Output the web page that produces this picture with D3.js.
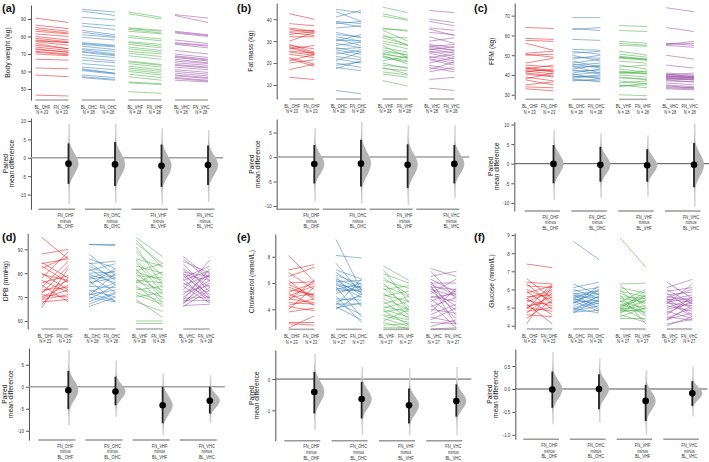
<!DOCTYPE html>
<html><head><meta charset="utf-8">
<script src="https://cdnjs.cloudflare.com/ajax/libs/d3/7.8.5/d3.min.js"></script>
<style>body{margin:0;background:#fff}svg{display:block}</style>
</head><body><svg id="chart" width="709" height="462"></svg>
<script>
const groups = ["OHF", "OHC", "VHF", "VHC"];
const colors = ["#E41A1C", "#377EB8", "#4DAF4A", "#984EA3"];

// (a) Body weight
const bwBL = [
 [90.5,86.5,85,84,83,81.5,80,79,78,77.5,77,76,75,74,73,72.5,71.5,71,70,67,62,58,46.5],
 [95.5,94.5,91,87.5,86,83.5,82.5,81,79.5,76.5,76,75.5,74.5,73,72.5,71.5,71,69.5,68,66.5,64.5,62.5,61.5,61,60.5,58,57,56.5],
 [94,93,85,84.5,84,83,80.5,79.5,77,76.5,75.5,74,73,71.5,70.5,69,66,65.5,64.5,63,62,61,60,58.5,57,54,53.5,48.5],
 [92.5,92,83,82.5,82,78,76.5,76,75.5,72,70,69,68.5,68,67,66,65,64,63.5,62.5,61,60,59,58,57.5,56.5,56,55]];
const bwFN = [
 [88,84.5,83,82,81.5,80,78,77,76.5,76.5,75,73,73,72,71,71,70,69.5,69,66.5,61.5,57,46],
 [94,92,89.5,86,84,81,80,79.5,78,75,74.5,74,72.5,71.5,70,69.5,69,68,66,65,63,61,59,59,58.5,56.5,55.5,55],
 [91,90,83.5,83,82,81.5,78.5,77.5,75.5,74.5,73.5,72,71,70,68.5,67,64,63.5,62.5,61,60,59,58,56.5,55,53,52.5,47.5],
 [90.5,88,81,80.5,80,76,75,74.5,73.5,70,68,67,66.5,66,65,64.5,63.5,62.5,62,61,59.5,58.5,57.5,56.5,56,55,54.5,54]];
const bwTicks = [50,60,70,80,90];
const bwDiffMean = [-1.6,-1.8,-2.2,-2.0];
const bwDiffLo = [-7.1,-7.7,-7.9,-7.4];
const bwDiffHi = [3.9,4.3,3.6,3.3];
const bwDiffMin = [-12.7,-12.3,-12.7,-12];
const bwDiffMax = [9.3,9.3,8,7.5];
const bwDiffTicks = [-10,-5,0,5,10];

// (b) Fat mass
const fmBL = [
 [42.5,38,36,35.5,34.5,34,33,32,28.5,28,27.5,27,26.5,25.5,25,24,22.5,22,21,20,17,13.5,30],
 [44.5,43.5,41,39,38.5,38,36,34,33,32,31,30.5,30,29,28,27,26.5,26,25,24,23,22,21,20,19,18,17.5,7.5],
 [45.5,42.5,41.5,36,35.5,35,33,32,31.5,30,29,28,27,26,25,24,23.5,23,22.5,21,20,19,18,17.5,16,15,12,24.5],
 [44,40,39,36,35.5,34,32,28.5,28,27.5,27,26.5,26,25.5,25,24.5,23,22.5,22,21.5,20,19,18,17,16,12.5,8.5,30]];
const fmFN = [
 [40,37,34.5,33.5,35,32.5,34.5,32,25,26.5,24.5,24,28,24.5,23.5,22.5,19.5,18.5,24,21.5,19.5,12.5,34],
 [43,39,44,38,36.5,39,37,31.5,32,30,28,30,33,27,29.5,25,27,24,22.5,26,21.5,20,25,18,20.5,16.5,21,6],
 [43,40,39.5,34.5,35,30,28,31.5,28.5,28,26.5,22.5,25,23.5,24,22.5,19.5,21,20.5,23,17.5,18,15,16.5,14.5,13.5,9.5,22],
 [43,38.5,37,35,32.5,33,29,27,25.5,28.5,26,24.5,27.5,23,25,22,21,24,20,19,22.5,17,16,20.5,18,13.5,7.5,31.5]];
const fmTicks = [10,20,30,40];
const fmDiffMean = [-1.43,-1.35,-1.6,-1.4];
const fmDiffLo = [-5.4,-6.0,-6.3,-5.4];
const fmDiffHi = [2.45,3.5,2.6,2.45];
const fmDiffMin = [-9.0,-9.5,-9.8,-8.4];
const fmDiffMax = [5.9,7.2,6.5,6.5];
const fmDiffTicks = [-10,-5,0,5];

// (c) FFM
const ffmBL = [
 [64,58.5,57.5,56,51,50.5,50,46,45,44,43.5,43,42.5,42,41.5,41,40.5,39,37.5,35,34,33,38],
 [69,63.5,58,53,52,51,50,49,48,47,46,45.5,45,44.5,44,43,42.5,42,41,40.5,40,39.5,39,38.5,38,37.5,37,63],
 [65,62.5,57,56,55,52,50.5,49.5,49,49,48.5,47,45,44,43,42,41.5,41,40,39,38.5,37,36,35,34,34.5,30,41],
 [74,64,56,55.5,55,50,45,41,40.5,40,39.5,39.5,39,39,38.5,38.5,38,38,37.5,37,36,35,34.5,34,33.5,33,55.5,40]];
const ffmFN = [
 [63.5,58,57,52.5,52,49,50.5,48.5,44,42,41.5,45,42,40.5,43,39.5,39,37,35,36.5,33.5,32,41],
 [69,62.5,57.5,52.5,50.5,52,47,48.5,50,44,48,43.5,46,41,44.5,45,40.5,42.5,43,38,41.5,38.5,40,39.5,36.5,37,38,64],
 [64.5,62,56,55,54.5,50,49,48,48,47.5,47.5,46,43,45,41.5,40.5,41,42,39,37.5,38,35.5,37,33.5,36,35,29.5,40.5],
 [72,62,55,57,54,48,43.5,40,39,39.5,39,38.5,38.5,39,38,37.5,37.5,38,36.5,36.5,35,34,33.5,33.5,33,32.5,56,41]];
const ffmTicks = [30,40,50,60,70];
const ffmDiffMean = [-0.05,-0.3,-0.4,-0.3];
const ffmDiffLo = [-5,-4.6,-4.6,-6];
const ffmDiffHi = [4.75,4.3,3.7,5.3];
const ffmDiffMin = [-9.3,-8.8,-8.4,-11];
const ffmDiffMax = [8.6,7.7,7.2,10.3];
const ffmDiffTicks = [-10,-5,0,5,10];

// (d) DPB
const dpbBL = [
 [95,88,84.5,84,83,82,80,79.5,78,77,76,75,74,73,72,71.5,71,70,69.5,69,68,67,65.5],
 [92,92,88,86,84.5,84,83,82,81,80,79.5,79,78,77.5,77,76,75,74.5,73,72,71.5,71,70.5,70,69,68,67,66],
 [95,94,92.5,91,89,86,85.5,84.5,83,82,81,80.5,80,79,78,77,76.5,76,75,74,73,72,71,70,69,68,60,59],
 [87,86,85,84,82,81.5,80.5,80,79.5,79,78,77.5,77,76,75,74.5,73,72,71,70,69.5,69,68.5,68,67.5,67,66.5,66]];
const dpbFN = [
 [86,90,78,86,76,87,73,77,89,72,79,68,85,74,77,83,70,75,73,71,69,78,82],
 [92,91.5,79,82,77,85,78,75,84,80.5,76,72,81,79,68,78,82,74,70,76,68.5,73,80,68,75,72,71.5,70],
 [87,82,84,75,79,83,74,72,80,69,84,77,71,78,68,76,73,80.5,66,70,74.5,68,67,72,61.5,64,60,59],
 [78,77,80,72,74,70,78.5,69,77,71,83,68,81,69.5,79,67.5,85.5,75,80,77,70,82,68.5,76,74,79.5,67,73]];
const dpbTicks = [60,70,80,90];
const dpbDiffMean = [-0.8,-1.1,-4.2,-3.2];
const dpbDiffLo = [-5.1,-4.2,-8.3,-6.1];
const dpbDiffHi = [3.6,2.3,0,0];
const dpbDiffMin = [-8.7,-6.8,-11,-8.3];
const dpbDiffMax = [8.3,6,3,2.6];
const dpbDiffTicks = [-10,-5,0,5];

// (e) Cholesterol
const chBL = [
 [8.1,7.0,6.8,6.5,6.2,6.0,5.9,5.7,5.5,5.3,5.2,5.0,4.9,4.8,4.7,4.5,4.3,4.2,4.0,3.8,3.0,2.9,2.6],
 [9.3,8.1,7.5,7.0,6.8,6.5,6.3,6.2,6.1,6.0,5.9,5.8,5.7,5.5,5.4,5.2,5.0,4.8,4.6,4.5,4.4,4.3,4.2,4.1,4.0,6.6,5.6],
 [7.3,7.0,6.7,6.4,6.2,6.0,5.8,5.6,5.5,5.3,5.1,5.0,4.8,4.6,4.4,4.2,4.1,4.0,3.9,3.8,3.6,3.5,3.3,3.1,3.0,2.8,2.6],
 [7.1,6.9,6.5,6.3,6.1,6.0,5.9,5.8,5.7,5.6,5.5,5.4,5.2,5.0,4.9,4.8,4.6,4.4,4.2,4.0,3.8,3.6,3.4,3.2,3.0,2.7,2.5]];
const chFN = [
 [6.1,7.4,5.5,7.2,4.7,6.1,5.0,4.9,5.1,6.0,4.3,5.8,5.2,4.5,6.2,4.4,4.8,3.9,5.7,4.1,3.0,2.8,3.5],
 [5.4,7.9,5.2,6.3,5.5,4.2,5.6,5.1,6.2,5.3,4.9,5.7,3.4,6.0,5.5,5.8,3.0,4.7,5.0,3.6,4.4,6.3,3.2,4.5,5.2,5.9,5.35],
 [6.2,4.5,6.0,5.1,5.6,3.9,5.0,4.2,5.8,3.5,4.6,5.4,4.0,3.3,5.0,3.8,4.6,3.4,2.8,4.1,3.2,3.0,2.7,4.0,2.5,2.9,2.6],
 [6.5,4.8,6.9,5.3,3.5,6.0,5.1,2.8,5.5,4.2,5.0,3.9,6.3,4.6,5.2,3.3,5.4,2.6,4.9,3.7,5.6,4.4,3.0,4.1,2.9,3.2,2.6]];
const chTicks = [4,6,8];
const chDiffMean = [-0.415,-0.64,-0.84,-0.7];
const chDiffLo = [-1.1,-1.26,-1.42,-1.2];
const chDiffHi = [0.23,-0.09,-0.3,-0.17];
const chDiffMin = [-1.63,-1.79,-1.79,-1.79];
const chDiffMax = [0.82,0.39,0.34,0.39];
const chDiffTicks = [-1,0];

// (f) Glucose
const glBL = [
 [7.4,6.6,6.4,6.3,6.2,6.0,5.9,5.8,5.6,5.5,5.5,5.4,5.3,5.2,5.1,5.0,5.0,4.9,4.8,4.7,4.6,4.4,4.1],
 [8.65,6.3,6.1,6.0,5.9,5.8,5.75,5.7,5.65,5.6,5.55,5.5,5.45,5.4,5.35,5.3,5.2,5.1,5.0,4.95,4.9,4.85,4.8,4.75,4.7,5.25],
 [8.85,6.3,6.25,6.1,6.0,5.9,5.8,5.7,5.6,5.5,5.4,5.3,5.2,5.1,5.05,5.0,4.95,4.9,4.85,4.8,4.75,4.7,4.6,4.5,4.4,4.9,5.35],
 [6.4,6.1,6.0,5.9,5.8,5.7,5.6,5.55,5.5,5.45,5.4,5.35,5.3,5.25,5.2,5.1,5.0,4.9,4.8,4.7,4.6,4.5,4.4,4.35,4.3,4.1,4.0]];
const glFN = [
 [7.2,5.5,6.3,5.2,6.1,5.4,4.9,6.2,5.7,4.6,6.0,5.1,5.9,4.1,5.3,5.6,4.8,6.3,5.0,5.8,4.5,5.4,6.2],
 [7.65,5.7,6.4,5.5,6.1,5.3,5.9,5.0,5.8,5.55,4.9,6.0,5.2,5.75,4.8,5.4,6.2,5.6,5.35,4.7,5.25,5.65,5.1,4.85,5.45,5.95],
 [7.25,6.35,5.0,5.8,4.6,5.6,5.2,4.1,5.5,5.3,4.9,6.0,4.7,5.7,5.55,4.3,5.9,5.1,4.8,5.45,4.95,5.4,4.2,5.0,4.4,5.65,4.55],
 [5.5,6.55,5.2,6.1,4.9,5.85,5.4,6.0,4.6,5.3,5.7,4.5,5.55,5.1,6.3,4.8,5.45,5.25,4.4,5.35,5.6,4.3,5.0,4.7,5.15,4.35,4.5]];
const glTicks = [4,5,6,7,8,9];
const glDiffMean = [-0.01,0.0,-0.26,-0.095];
const glDiffLo = [-0.41,-0.44,-0.70,-0.37];
const glDiffHi = [0.38,0.32,0.09,0.17];
const glDiffMin = [-0.77,-0.73,-1.0,-0.6];
const glDiffMax = [0.81,0.67,0.41,0.49];
const glDiffTicks = [-1,-0.5,0,0.5];

// layout (positions / styles only)
const panels = [
 {label:"(a)", lx:2, ly:12, title:"Body weight (kg)", bl:bwBL, fn:bwFN, ticks:bwTicks,
  diff:[bwDiffMean,bwDiffLo,bwDiffHi,bwDiffMin,bwDiffMax], dticks:bwDiffTicks,
  top:{ax:31, y0:100, y1:5, dom:[43.7,98], c0:52, c1:191.5, hw:16.5, tx:8},
  bot:{ax:31, y0:209.3, y1:118, dom:[-14,10.8], segL:30, segR:6.5, t1:6.5, t2:12.5, zc:"#a0a0a0", zw:1.6}},
 {label:"(b)", lx:237, ly:12, title:"Fat mass (kg)", bl:fmBL, fn:fmFN, ticks:fmTicks,
  diff:[fmDiffMean,fmDiffLo,fmDiffHi,fmDiffMin,fmDiffMax], dticks:fmDiffTicks,
  top:{ax:276.7, y0:99, y1:3, dom:[3.6,47.4], c0:301.8, c1:441.8, hw:12.5, tx:251},
  bot:{ax:276.7, y0:209.3, y1:119, dom:[-10.67,7.76], segL:38, segR:5, t1:252.5, t2:258, zc:"#a0a0a0", zw:1.6}},
 {label:"(c)", lx:474, ly:12, title:"FFM (kg)", bl:ffmBL, fn:ffmFN, ticks:ffmTicks,
  diff:[ffmDiffMean,ffmDiffLo,ffmDiffHi,ffmDiffMin,ffmDiffMax], dticks:ffmDiffTicks,
  top:{ax:514.7, y0:99.3, y1:3, dom:[27.7,76.4], c0:539.5, c1:680, hw:14, tx:492},
  bot:{ax:514.3, y0:211, y1:121.7, dom:[-12.07,10.71], segL:29, segR:6.5, t1:491, t2:497.5, zc:"#555", zw:1}},
 {label:"(d)", lx:2, ly:241, title:"DPB (mmHg)", bl:dpbBL, fn:dpbFN, ticks:dpbTicks,
  diff:[dpbDiffMean,dpbDiffLo,dpbDiffHi,dpbDiffMin,dpbDiffMax], dticks:dpbDiffTicks,
  top:{ax:27.7, y0:329, y1:233.3, dom:[56.65,96.7], c0:55, c1:196.5, hw:13.3, tx:6},
  bot:{ax:29, y0:440, y1:348.3, dom:[-12.1,8.73], segL:30, segR:7, t1:5.5, t2:11.5, zc:"#a0a0a0", zw:1.6}},
 {label:"(e)", lx:237, ly:241, title:"Cholesterol (mmol/L)", bl:chBL, fn:chFN, ticks:chTicks,
  diff:[chDiffMean,chDiffLo,chDiffHi,chDiffMin,chDiffMax], dticks:chDiffTicks,
  top:{ax:275.3, y0:329.3, y1:234, dom:[2.48,9.73], c0:301.5, c1:443.5, hw:12.8, tx:252},
  bot:{ax:275.3, y0:440.7, y1:350, dom:[-1.97,0.93], segL:30, segR:6, t1:252, t2:257.5, zc:"#555", zw:1}},
 {label:"(f)", lx:474, ly:241, title:"Glucose (mmol/L)", bl:glBL, fn:glFN, ticks:glTicks,
  diff:[glDiffMean,glDiffLo,glDiffHi,glDiffMin,glDiffMax], dticks:glDiffTicks,
  top:{ax:514.7, y0:329, y1:233, dom:[3.82,9.11], c0:539.5, c1:679.5, hw:12.8, tx:492},
  bot:{ax:515.3, y0:439.3, y1:349, dom:[-1.098,0.873], segL:29, segR:6.5, t1:490, t2:496, zc:"#555", zw:1}}
];

const REG = "'Liberation Sans',Arial,sans-serif";
const SQ = 0.74; // horizontal squeeze of small labels
const svg = d3.select("#chart");

function fmtFor(ticks) {
  const dec = ticks.some(t => !Number.isInteger(t)) ? 1 : 0;
  return d => d.toFixed(dec);
}
function styleAxis(sel) {
  sel.select(".domain").attr("stroke", "#555").attr("stroke-width", 1);
  sel.selectAll(".tick line").attr("stroke", "#555");
  sel.selectAll(".tick text").attr("fill", "#333").attr("font-size", 6).attr("font-family", REG)
    .attr("x", 0).attr("transform", `translate(-5,0) scale(${SQ},1)`);
}
function smallLabel(g, x, y, s) {
  g.append("text").attr("transform", `translate(${x},${y}) scale(${SQ},1)`).attr("text-anchor", "middle")
    .attr("font-family", REG).attr("font-size", 5.5).attr("fill", "#333").text(s);
}

panels.forEach(p => {
  const g = svg.append("g");
  g.append("text").attr("x", p.lx).attr("y", p.ly).text(p.label)
    .attr("font-family", REG).attr("font-weight", "bold").attr("font-size", 11).attr("fill", "#111");

  // ---- slopegraph
  const t = p.top;
  const y = d3.scaleLinear().domain(t.dom).range([t.y0, t.y1]);
  const x = d3.scalePoint().domain(groups).range([t.c0, t.c1]);
  const ax = g.append("g").attr("transform", `translate(${t.ax},0)`)
    .call(d3.axisLeft(y).tickValues(p.ticks).tickSize(3).tickSizeOuter(0).tickPadding(2).tickFormat(fmtFor(p.ticks)));
  styleAxis(ax);
  g.append("text").attr("transform", `translate(${t.tx},${(t.y0 + t.y1) / 2}) rotate(-90)`)
    .attr("text-anchor", "middle").attr("dominant-baseline", "middle")
    .attr("font-family", REG).attr("font-size", 6.8).attr("fill", "#222").text(p.title);

  groups.forEach((grp, i) => {
    const cx = x(grp), xl = cx - t.hw, xr = cx + t.hw;
    g.append("line").attr("x1", xl).attr("x2", xr).attr("y1", t.y0).attr("y2", t.y0)
      .attr("stroke", "#aaa").attr("stroke-width", 1.5);
    const pairs = p.bl[i].map((v, j) => [v, p.fn[i][j]]);
    g.append("g").selectAll("line").data(pairs).join("line")
      .attr("x1", xl).attr("x2", xr)
      .attr("y1", d => y(d[0])).attr("y2", d => y(d[1]))
      .attr("stroke", colors[i]).attr("stroke-width", 0.9).attr("stroke-opacity", 0.6);
    const n = p.bl[i].length;
    [["BL_" + grp, cx - 9.7], ["FN_" + grp, cx + 9.7]].forEach(([lab, lx]) => {
      smallLabel(g, lx, t.y0 + 8.5, lab);
      smallLabel(g, lx, t.y0 + 14.3, "N = " + n);
    });
  });

  // ---- paired mean difference
  const b = p.bot;
  const yb = d3.scaleLinear().domain(b.dom).range([b.y0, b.y1]);
  const axb = g.append("g").attr("transform", `translate(${b.ax},0)`)
    .call(d3.axisLeft(yb).tickValues(p.dticks).tickSize(3).tickSizeOuter(0).tickPadding(2).tickFormat(fmtFor(p.dticks)));
  styleAxis(axb);
  const ym = (b.y0 + b.y1) / 2;
  g.append("text").attr("transform", `translate(${b.t1},${ym}) rotate(-90)`)
    .attr("text-anchor", "middle").attr("dominant-baseline", "middle")
    .attr("font-family", REG).attr("font-size", 6.7).attr("fill", "#222").text("Paired");
  g.append("text").attr("transform", `translate(${b.t2},${ym}) rotate(-90)`)
    .attr("text-anchor", "middle").attr("dominant-baseline", "middle")
    .attr("font-family", REG).attr("font-size", 6.7).attr("fill", "#222").text("mean difference");

  const lastDx = x(groups[3]) + t.hw;
  g.append("line").attr("x1", b.ax).attr("x2", lastDx + 15).attr("y1", yb(0)).attr("y2", yb(0))
    .attr("stroke", b.zc).attr("stroke-width", b.zw);

  const [dMean, dLo, dHi, dMin, dMax] = p.diff;
  groups.forEach((grp, i) => {
    const dx = x(grp) + t.hw;
    g.append("line").attr("x1", dx - b.segL).attr("x2", dx + b.segR).attr("y1", b.y0).attr("y2", b.y0)
      .attr("stroke", "#999").attr("stroke-width", 1.5);
    g.append("rect").attr("x", dx).attr("width", 1.6)
      .attr("y", yb(dMax[i])).attr("height", yb(dMin[i]) - yb(dMax[i])).attr("fill", "#d6d6d6");
    const sd = (dHi[i] - dLo[i]) / 3.92;
    const grid = d3.range(0, 81).map(k => dMin[i] + (dMax[i] - dMin[i]) * k / 80);
    const area = d3.area().y(v => yb(v)).x0(dx)
      .x1(v => dx + 10 * Math.exp(-0.5 * Math.pow((v - dMean[i]) / sd, 2)))
      .curve(d3.curveBasis);
    g.append("path").attr("d", area(grid)).attr("fill", "#b4b4b4");
    g.append("line").attr("x1", dx).attr("x2", dx).attr("y1", yb(dLo[i])).attr("y2", yb(dHi[i]))
      .attr("stroke", "#222").attr("stroke-width", 1.8);
    g.append("circle").attr("cx", dx).attr("cy", yb(dMean[i])).attr("r", 3.3).attr("fill", "#000");
    const lx = dx - 3;
    [["FN_" + grp, 7.5], ["minus", 13.3], ["BL_" + grp, 19.1]].forEach(([s, dy]) => {
      smallLabel(g, lx, b.y0 + dy, s);
    });
  });
});
</script>
</body></html>
